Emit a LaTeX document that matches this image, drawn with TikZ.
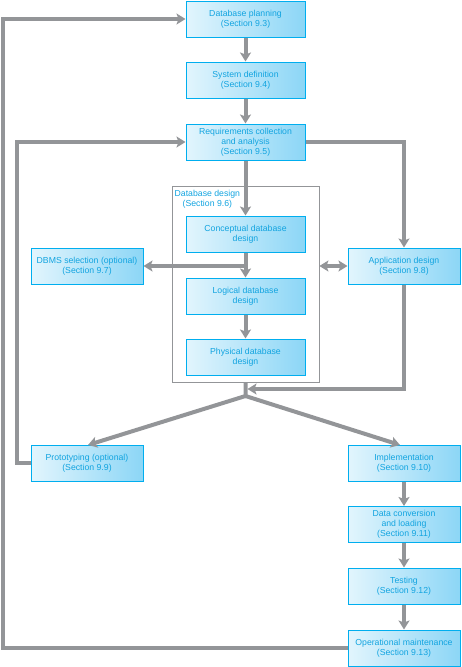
\documentclass[tikz,border=0pt]{standalone}
\usepackage{fontspec}
\setmainfont{Liberation Sans}
\usetikzlibrary{arrows.meta,calc}
\definecolor{boxL}{HTML}{E2F5FD}
\definecolor{boxR}{HTML}{8CD6F6}
\definecolor{boxB}{HTML}{00AEEF}
\definecolor{txt}{HTML}{12A4E0}
\definecolor{arr}{HTML}{939598}
\begin{document}
\begin{tikzpicture}[x=1pt,y=-1pt,
  stagebox/.style={draw=boxB, line width=1pt, left color=boxL, right color=boxR,
    minimum width=119pt, minimum height=36pt, inner sep=1pt, align=center,
    font=\fontsize{8.7}{10}\selectfont, text=txt},
  sidebox/.style={stagebox, minimum width=112pt},
  flow/.style={draw=arr, line width=4pt, -{Stealth[length=9pt,width=11pt,inset=2pt]}},
  flowboth/.style={draw=arr, line width=4pt, {Stealth[length=9pt,width=11pt,inset=2pt]}-{Stealth[length=9pt,width=11pt,inset=2pt]}}
]
\useasboundingbox (0,0) rectangle (461,667);

% outer database design frame
\node[draw=arr, line width=0.8pt, minimum width=147pt, minimum height=196pt, inner sep=0pt] (dbd) at (245.5,284) {};
\node[anchor=north west, inner sep=1pt, align=center, font=\fontsize{8.7}{10}\selectfont, text=txt] (dbdlabel) at (173.5,189) {Database design\\(Section 9.6)};

% stages
\node[stagebox] (plan) at (245.5,19) {Database planning\\(Section 9.3)};
\node[stagebox] (sysdef) at (245.5,80) {System definition\\(Section 9.4)};
\node[stagebox] (req) at (245.5,142) {Requirements collection\\and analysis\\(Section 9.5)};
\node[stagebox] (concept) at (245.5,234) {Conceptual database\\design};
\node[stagebox] (logical) at (245.5,296) {Logical database\\design};
\node[stagebox] (physical) at (245.5,357) {Physical database\\design};
\node[sidebox] (dbms) at (87,266) {DBMS selection (optional)\\(Section 9.7)};
\node[sidebox] (app) at (404,266) {Application design\\(Section 9.8)};
\node[sidebox] (proto) at (87,463) {Prototyping (optional)\\(Section 9.9)};
\node[sidebox] (impl) at (404,463) {Implementation\\(Section 9.10)};
\node[sidebox] (dataconv) at (404,524.5) {Data conversion\\and loading\\(Section 9.11)};
\node[sidebox] (testing) at (404,586) {Testing\\(Section 9.12)};
\node[sidebox] (opmaint) at (404,648) {Operational maintenance\\(Section 9.13)};

% helper coordinates
\coordinate (loopA) at (3,300);
\coordinate (loopB) at (17,300);
\coordinate (mid) at (245.5,266);
\coordinate (appin) at (247.5,389);
\coordinate (junc) at (245.5,396);
\coordinate (impltip) at (400,445);
\coordinate (prototip) at (88,445);

% connectors
\draw[flow] (plan) -- (sysdef);
\draw[flow] (sysdef) -- (req);
\draw[flow] (req) -- (concept);
\draw[flow] (concept) -- (logical);
\draw[flow] (logical) -- (physical);
\draw[flow] (mid) -- (dbms.east);
\draw[flowboth] (dbd.east |- app.west) -- (app.west);
\draw[flow] (req.east) -| (app.north);
\draw[flow] (app.south) |- (appin);
\draw[flow] (dbd.south) -- (junc) -- (prototip);
\draw[flow] (junc) -- (impltip);
\draw[flow] (impl) -- (dataconv);
\draw[flow] (dataconv) -- (testing);
\draw[flow] (testing) -- (opmaint);
\draw[flow] (proto.west) -| (loopB) |- (req.west);
\draw[flow] (opmaint.west) -| (loopA) |- (plan.west);
\end{tikzpicture}
\end{document}
